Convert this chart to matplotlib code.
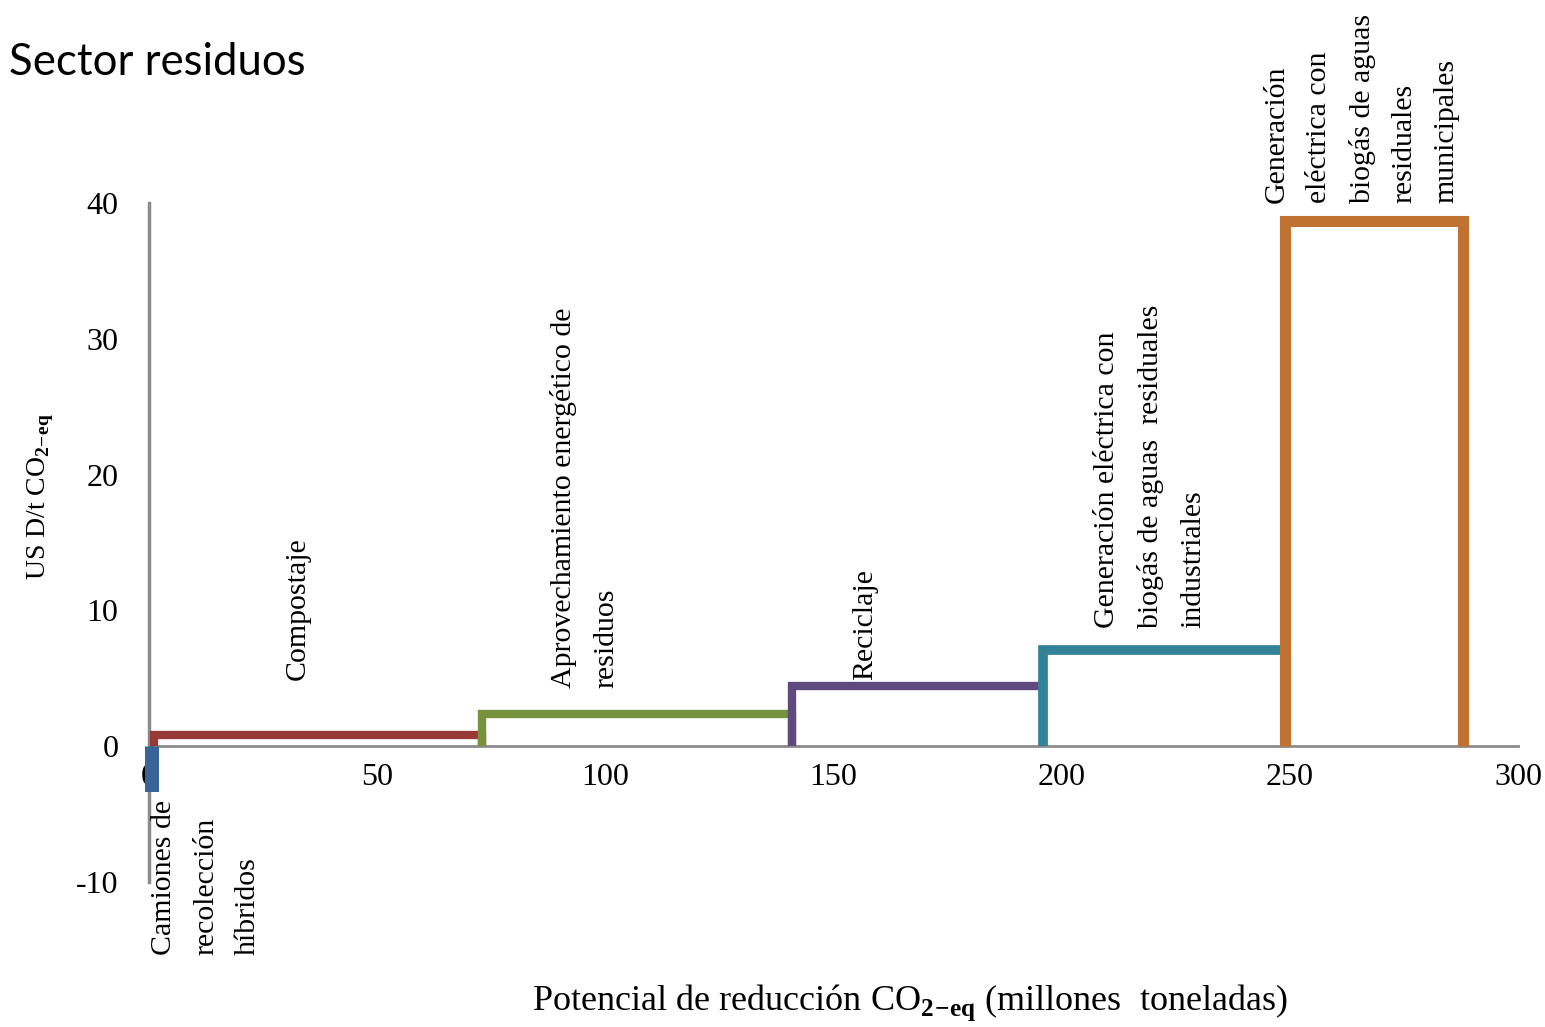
import matplotlib
matplotlib.use("Agg")
import matplotlib.pyplot as plt
import numpy as np

plt.rcParams['font.family'] = ['Liberation Serif', 'DejaVu Serif']
plt.rcParams['mathtext.fontset'] = 'custom'
plt.rcParams['mathtext.rm'] = 'Liberation Serif'
plt.rcParams['mathtext.bf'] = 'Liberation Serif:bold'
plt.rcParams['axes.unicode_minus'] = False

# abatement measures (MAC curve, waste sector)
medidas = [
    "Camiones de\nrecolección\nhíbridos",
    "Compostaje",
    "Aprovechamiento energético de\nresiduos",
    "Reciclaje",
    "Generación eléctrica con\nbiogás de aguas  residuales\nindustriales",
    "Generación\neléctrica con\nbiogás de aguas\nresiduales\nmunicipales",
]
potencial = [1, 72, 68, 55, 53, 39]          # Mt CO2-eq
costo = [-3.0, 0.8, 2.4, 4.4, 7.1, 38.7]      # USD / t CO2-eq
colores = ['#3A6497', '#983B37', '#77923C', '#5F4A7F', '#348297', '#C07230']

xticks = [0, 50, 100, 150, 200, 250, 300]
yticks = [-10, 0, 10, 20, 30, 40]

# label anchor (data coords) - bottom of rotated text
lab_x = [12.5, 32.7, 95.5, 157, 219.4, 265.8]
lab_y = [-15.4, 4.9, 4.3, 4.9, 8.7, 40.0]

fig = plt.figure(figsize=(15.45, 10.27), dpi=100)
ax = fig.add_axes([0.0964, 0.1412, 0.8861, 0.6611])

edges = np.concatenate([[0], np.cumsum(potencial)])
lws = [6.5, 6, 6, 6, 7, 8]
for i in range(len(potencial)):
    x0, x1, h = edges[i], edges[i + 1], costo[i]
    ax.plot([x0, x0, x1, x1], [0, h, h, 0], color=colores[i], lw=lws[i],
            solid_joinstyle='miter', solid_capstyle='butt', zorder=3 + i,
            clip_on=False)
    ax.text(lab_x[i], lab_y[i], medidas[i], rotation=90, ha='center',
            va='bottom', multialignment='left', fontsize=21.5,
            linespacing=1.8, clip_on=False, zorder=10)

ax.set_xlim(0, 300)
ax.set_ylim(-10, 40)
ax.set_xticks(xticks)
ax.set_yticks(yticks)
ax.tick_params(length=0, labelsize=23, pad=12)
ax.tick_params(axis='y', pad=22)
for s in ['top', 'right']:
    ax.spines[s].set_visible(False)
ax.spines['bottom'].set_position(('data', 0))
ax.spines['bottom'].set_color('#8C8C8C')
ax.spines['left'].set_color('#8C8C8C')
ax.spines['bottom'].set_linewidth(2)
ax.spines['left'].set_linewidth(2.5)
ax.spines['bottom'].set_zorder(2)

ax.set_ylabel(r'US D/t CO$_{\mathbf{2\!-\!eq}}$', fontsize=20)
ax.yaxis.set_label_coords(-0.068, 0.567)
fig.text(0.589, 0.004, r'Potencial de reducción CO$_{\mathbf{2\!-\!eq}}$ (millones  toneladas)',
         ha='center', va='bottom', fontsize=26)

fig.text(0.006, 0.939, 'Sector residuos', family='Lato', fontsize=31.5,
         ha='left', va='center')

fig.savefig('out.png', dpi=100)
